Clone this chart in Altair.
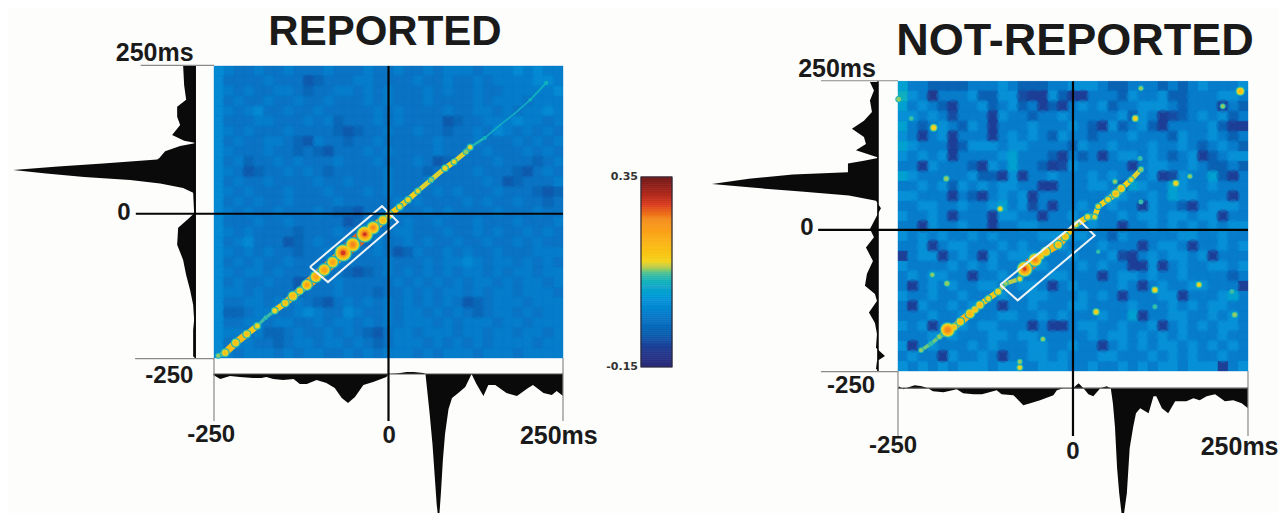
import altair as alt
import numpy as np
import pandas as pd

# ---- colour scale ----
cb_domain = [-0.15, -0.10, -0.066, -0.02, 0.026, 0.06, 0.092, 0.11, 0.126, 0.18, 0.237, 0.276, 0.34, 0.35]
cb_range = ["#2b2a78", "#1d3f96", "#0a5fb0", "#0a78c8", "#0a94d8", "#1fa8c8", "#45bda0", "#b8cc50",
            "#f5d21a", "#fbb118", "#f68d1e", "#d93a1e", "#7a1a18", "#701816"]
color_scale = alt.Scale(domain=cb_domain, range=cb_range, clamp=True)
levels_a = {"3": -0.072, "4": -0.052, "5": -0.03, "6": -0.012, "7": 0.008}
levels_b = {"1": -0.115, "2": -0.10, "3": -0.085, "4": -0.06, "5": -0.014, "6": 0.02, "7": 0.045, "8": 0.07}

# ---- background correlation levels (rows top to bottom) ----
rows_a = """76556 55655 56555 65565 56566 65666 76766
75555 65553 45556 65555 65565 56566 66776
76565 56654 55665 65655 56565 56556 66667
75655 65565 56555 65655 56555 56566 65666
76567 55655 65555 56565 55565 56656 56676
75556 65556 56455 56565 55534 55666 76656
76565 55655 55434 55655 65545 56576 56565
75655 66543 65545 56555 55655 56555 65656
76555 65545 43555 65655 55655 55655 56565
75645 56565 55655 56555 65345 55565 55456
76534 55656 54555 55655 54555 56555 43565
75655 65555 65565 55655 56555 55653 45556
76565 55655 56555 65655 55656 55565 55434
75656 55655 55655 55565 65555 65655 65545
76565 56555 65443 55565 56565 55565 55655
75556 55655 55534 65556 55655 56555 65556
76565 55545 55655 65566 55565 56565 56565
75675 55345 65565 46556 56556 55655 65655
76565 65545 56555 56534 65565 65565 55666
75656 55655 55655 55655 56566 76566 56565
76566 56555 65543 45656 56565 66565 66566
75655 65534 55655 55565 65656 56656 56656
76656 55545 55655 54556 56566 56566 56665
75566 56565 43565 65656 56565 34566 65666
74456 65567 65576 55656 65656 54566 56566
75566 56655 65665 65656 66565 66656 65666
76656 44565 56565 43566 56665 66566 56656
75665 54566 56656 54566 65656 56566 66566
76566 65656 65565 65666 56566 65666 56666""".split("\n")

rows_b = """75544 44555 65444 55666 54455 54545 65556
86515 55644 66322 64225 55465 56445 55665
75654 25564 56452 42565 64556 66545 55254
66565 35552 65545 56555 55646 52345 65645
75456 54652 55565 55654 26456 42555 56422
65256 25552 56565 46554 55565 55465 56545
76555 24666 56655 55465 56555 65565 45654
65656 25555 67555 42545 25665 65456 24566
55265 55426 57554 23655 55525 66556 54454
76555 55644 26255 65556 56555 62365 57425
55656 46565 66552 25556 65476 55765 56555
66555 25425 65625 55555 56655 65766 55525
55665 56556 75635 25565 56552 65542 56665
65565 25552 66552 55656 55656 65665 66255
55265 56552 55665 55556 55255 65656 56566
65656 55656 55556 66665 54655 55566 55655
55625 66555 65655 56555 65552 56652 55656
25662 56526 56665 55655 56325 65665 62555
65555 65656 55566 55565 65522 62565 56656
56566 55255 65555 66555 25665 65565 55545
52565 65566 55665 25655 55652 56556 65552
65565 56555 65566 55565 65255 56625 55675
52655 65655 25565 55665 55565 55656 56655
55565 56555 66556 56555 65572 55665 56565
65625 56566 55525 22566 55655 62565 65665
55565 65556 65665 55556 56656 56565 55655
62565 55656 55566 55655 25656 56656 56565
56552 65565 25566 56555 66555 65656 55655
65656 56665 66556 66556 55656 56656 66256""".split("\n")

# ---- ridge along the diagonal: lag x (ms), lag y (ms), correlation ----
ridge_a_x = [-244, -234, -219, -203, -188, -176, -163, -148, -137, -127, -117, -104, -92, -80, -65, -51, -34, -22, -8, 1, 16, 28, 42, 61, 81, 94, 111, 117, 138, 160, 181, 203, 226]
ridge_a_y = [-246, -241, -224, -209, -195, -181, -169, -156, -144, -135, -125, -111, -99, -86, -70, -56, -38, -27, -14, -5, 9, 21, 36, 55, 75, 86, 103, 111, 127, 149, 169, 192, 221]
ridge_a_v = [0.11, 0.16, 0.17, 0.16, 0.14, 0.09, 0.14, 0.16, 0.19, 0.16, 0.21, 0.22, 0.23, 0.22, 0.30, 0.26, 0.29, 0.24, 0.19, 0.17, 0.14, 0.14, 0.13, 0.12, 0.14, 0.13, 0.12, 0.13, 0.08, 0.065, 0.065, 0.07, 0.085]

ridge_b_x = [-217, -203, -191, -179, -170, -161, -147, -140, -133, -121, -107, -96, -76, -71, -69, -54, -46, -39, -21, -11, 4, 21, 31, 36, 50, 61, 69, 83, 97]
ridge_b_y = [-214, -203, -191, -179, -174, -165, -151, -144, -136, -125, -113, -99, -91, -79, -74, -58, -51, -44, -32, -18, 3, 16, 16, 34, 46, 56, 65, 80, 98]
ridge_b_v = [0.11, 0.10, 0.12, 0.27, 0.16, 0.17, 0.19, 0.16, 0.17, 0.14, 0.15, 0.11, 0.13, 0.15, 0.28, 0.25, 0.16, 0.19, 0.17, 0.17, 0.14, 0.14, 0.13, 0.13, 0.14, 0.17, 0.17, 0.13, 0.12]

# isolated peaks in the not-reported map
spot_b_x = [-199, -104, -181, -231, -249, 89, 97, 239, 214, 147, 167, 97, 96, -201, -180, -43, -76, -76, 117, 180, 33, 231, 117, 227, 36, 60]
spot_b_y = [170, 30, 82, 186, 219, 186, 238, 233, 207, 74, 86, 42, 117, -84, -99, -195, -234, -244, -110, -101, -148, -153, -139, -113, -44, 77]
spot_b_v = [0.15, 0.13, 0.12, 0.10, 0.12, 0.14, 0.11, 0.17, 0.11, 0.14, 0.11, 0.10, 0.10, 0.11, 0.12, 0.11, 0.11, 0.13, 0.14, 0.13, 0.14, 0.12, 0.10, 0.10, 0.09, 0.11]

# selection window outlines (ms)
box_a_x = [-112.5, -86.7, 13.6, -9.3, -112.5]
box_a_y = [-94, -120, -17, 10, -94]
box_b_x = [-104, -79, 31, 9, -104]
box_b_y = [-101, -128, -16, 10, -101]

# ---- spike histograms: position (ms), height ----
left_a_t = [250, 217, 192, 180, 163, 149, 132, 122, 118, 113, 104, 92, 90, 83, 78, 72, 66, 60, 55, 49, 41, 33, -2, -12, -27, -56, -82, -108, -134, -159, -185, -202, -228, -248]
left_a_h = [12, 11, 9, 18, 18, 15, 23, 11, -1, 15, 30, 36, 38, 92, 137, 182, 149, 111, 65, 35, 12, 2, 1, 7, 17, 18, 12, 9, 5, 2, 1, 2, 2, 2]
bottom_a_t = [-251, -241, -227, -213, -194, -182, -175, -165, -151, -136, -127, -117, -103, -89, -77, -67, -58, -48, -36, -22, -3, 0, 12, 26, 36, 50, 53, 56, 59, 63, 66, 69, 72, 75, 78, 81, 86, 91, 100, 110, 119, 126, 136, 143, 153, 169, 184, 200, 207, 222, 234, 241, 250]
bottom_a_h = [1, 5, 2, 3, 4, 4, 3, 5, 6, 5, 10, 10, 6, 9, 14, 24, 29, 23, 11, 8, 3, 0, -0.5, -2, -2, -1, 0, 20, 40, 70, 100, 130, 149, 120, 85, 60, 35, 24, 19, 13, 0, 10, 22, 11, 11, 19, 22, 14, 11, 19, 21, 17, 22]

left_b_t = [249, 234, 217, 197, 182, 168, 154, 142, 131, 122, 118, 113, 108, 93, 89, 82, 73, 67, 60, 53, 44, 31, 15, -5, -19, -37, -60, -82, -103, -117, -129, -149, -167, -186, -210, -224, -233, -247]
left_b_h = [8, 4, 8, 6, 14, 26, 14, 12, 22, 6, -1, 14, 30, 30, 85, 129, 166, 129, 77, 29, 2, -3, 2, 8, 4, 12, 5, 11, 13, 3, 1, 9, 3, 1, 2, -7, 1, 2]
bottom_b_t = [-249, -242, -235, -226, -216, -207, -200, -185, -166, -157, -142, -130, -109, -102, -85, -71, -61, -47, -28, -23, -14, 0, 8, 15, 22, 29, 39, 48, 54, 57, 60, 63, 66, 71, 77, 81, 86, 90, 96, 108, 115, 119, 127, 136, 146, 162, 172, 181, 191, 203, 217, 229, 241, 250]
bottom_b_h = [-2, 1, -1, -3, -2, 0, 3, 4, 1, 5, 6, 6, 2, 6, 7, 17, 15, 12, 7, 2, 0, 0, -5, 0, 6, 8, 0, -2, 0, 15, 39, 80, 105, 135, 105, 60, 39, 25, 20, 25, 8, 8, 20, 25, 13, 13, 10, 12, 8, 6, 13, 12, 15, 20]

bar_levels = np.arange(-0.15, 0.35, 0.005).round(3).tolist()

FONT = "Liberation Sans"


def cells(rows, levels):
    recs = []
    rows = [r.replace(" ", "") for r in rows]
    ncol, nrow = len(rows[0]), len(rows)
    for j, row in enumerate(rows):
        for i, c in enumerate(row):
            recs.append(dict(x=-250 + 500 * i / ncol, x2=-250 + 500 * (i + 1) / ncol,
                             y=250 - 500 * j / nrow, y2=250 - 500 * (j + 1) / nrow,
                             cx=-250 + 500 * (i + 0.5) / ncol, cy=250 - 500 * (j + 0.5) / nrow,
                             v=levels[c], edge=(i == 0 or j == 0 or i == ncol - 1 or j == nrow - 1)))
    return pd.DataFrame(recs)


def shells(xs, ys, vs):
    steps = [0.07, 0.09, 0.105, 0.125, 0.16, 0.2, 0.24, 0.28]
    recs = []
    for x, y, p in zip(xs, ys, vs):
        for l in steps:
            if l <= p:
                d = 3.5 + (p - l) * 62
                recs.append(dict(x=x, y=y, v=l, s=d * d))
    return pd.DataFrame(recs).sort_values("v", kind="stable")


def segments(xs, ys, vs):
    recs = []
    for i in range(len(xs) - 1):
        m = min(vs[i], vs[i + 1])
        recs.append(dict(x=xs[i], x2=xs[i + 1], y=ys[i], y2=ys[i + 1], v=m, w=1.6 + max(m - 0.065, 0) * 58))
    return pd.DataFrame(recs).sort_values("v", kind="stable")


def panel(rows, levels, rx, ry, rv, box_x, box_y, left_t, left_h, bot_t, bot_h,
          xdom, ydom, width, height, kx, ky, left_base, bot_base, zero_y, x_top_from, x_low_from,
          low_len, zero_from, texts, spots=None, blob=220, blob_op=0.5):
    sx = alt.Scale(domain=xdom, range=[0, width], nice=False, zero=False)
    sy = alt.Scale(domain=ydom, range=[height, 0], nice=False, zero=False)
    X = lambda f="x": alt.X(f"{f}:Q", scale=sx, axis=None)
    Y = lambda f="y": alt.Y(f"{f}:Q", scale=sy, axis=None)
    C = alt.Color("v:Q", scale=color_scale, legend=None)

    layers = []
    cdf = cells(rows, levels)
    layers.append(alt.Chart(pd.DataFrame(dict(x=[-250], x2=[250], y=[250], y2=[-250], v=[-0.02])))
                  .mark_rect().encode(x=X(), x2="x2:Q", y=Y(), y2="y2:Q", color=C))
    layers.append(alt.Chart(cdf).mark_rect(strokeWidth=0.4).encode(
        x=X(), x2="x2:Q", y=Y(), y2="y2:Q", color=C, stroke=alt.Stroke("v:Q", scale=color_scale, legend=None)))
    # softened blobs over the cells
    layers.append(alt.Chart(cdf[~cdf.edge]).mark_circle(opacity=blob_op, size=blob).encode(
        x=X("cx"), y=Y("cy"), color=C))
    # ridge
    seg = segments(rx, ry, rv)
    layers.append(alt.Chart(seg).mark_rule(strokeCap="round").encode(
        x=X(), x2="x2:Q", y=Y(), y2="y2:Q", color=C,
        strokeWidth=alt.StrokeWidth("w:Q", scale=None, legend=None)))
    sdf = shells(rx, ry, rv)
    if spots is not None:
        sdf = pd.concat([sdf, shells(*spots)]).sort_values("v", kind="stable")
    layers.append(alt.Chart(sdf).mark_circle(opacity=1).encode(
        x=X(), y=Y(), color=C, size=alt.Size("s:Q", scale=None, legend=None)))
    # selection box
    bdf = pd.DataFrame(dict(x=box_x, y=box_y, o=range(len(box_x))))
    layers.append(alt.Chart(bdf).mark_line(color="#eef4f6", strokeWidth=2).encode(x=X(), y=Y(), order="o:Q"))

    # histograms
    ldf = pd.DataFrame(dict(y=left_t, h=left_h)).sort_values("y")
    ldf["x"] = left_base - ldf.h * kx
    ldf["x2"] = left_base
    layers.append(alt.Chart(ldf).mark_area(orient="horizontal", color="#0a0a0a", interpolate="linear").encode(
        y=Y(), x=X(), x2="x2:Q"))
    bdf2 = pd.DataFrame(dict(x=bot_t, h=bot_h))
    bdf2["y"] = bot_base - bdf2.h * ky
    bdf2["y2"] = bot_base
    layers.append(alt.Chart(bdf2).mark_area(color="#0a0a0a", interpolate="linear", clip=True).encode(
        x=X(), y=Y(), y2="y2:Q"))

    # thin grey frame rules
    gray = pd.DataFrame(dict(
        x=[x_top_from, x_low_from, -250, 250, -250],
        x2=[-250, -250, -250, 250, 250],
        y=[251, -251, -250, -250, bot_base],
        y2=[251, -251, low_len, low_len, bot_base],
        c=["#8a8a8a", "#8a8a8a", "#8a8a8a", "#8a8a8a", "#555555"]))
    layers.append(alt.Chart(gray).mark_rule(strokeWidth=1.2).encode(
        x=X(), x2="x2:Q", y=Y(), y2="y2:Q", color=alt.Color("c:N", scale=None, legend=None)))
    # black axes
    black = pd.DataFrame(dict(
        x=[zero_from, 0, left_base], x2=[250, 0, left_base],
        y=[zero_y, 250, 250], y2=[zero_y, low_len, -250], w=[2.2, 2.2, 1.6]))
    layers.append(alt.Chart(black).mark_rule(color="#050505").encode(
        x=X(), x2="x2:Q", y=Y(), y2="y2:Q", strokeWidth=alt.StrokeWidth("w:Q", scale=None, legend=None)))
    # text
    tdf = pd.DataFrame(texts, columns=["x", "y", "t", "fs"])
    layers.append(alt.Chart(tdf).mark_text(font=FONT, fontWeight="bold", color="#1a1a1a", baseline="alphabetic", align="center").encode(
        x=X(), y=Y(), text="t:N", size=alt.Size("fs:Q", scale=None, legend=None)))
    return alt.layer(*layers).properties(width=width, height=height)


H = 505
a = panel(rows_a, levels_a, ridge_a_x, ridge_a_y, ridge_a_v, box_a_x, box_a_y,
          left_a_t, left_a_h, bottom_a_t, bottom_a_h,
          xdom=[-545.1, 303.0], ydom=[-515.4, 349.3], width=592, height=H,
          kx=1.4327, ky=1.7123, left_base=-277, bot_base=-277.4, zero_y=-3,
          x_top_from=-355, x_low_from=-363, low_len=-358, zero_from=-362,
          texts=[(-5, 286, "REPORTED", 42), (-335, 258.6, "250ms", 25), (-379, -14, "0", 24),
                 (-314, -293, "-250", 24), (-254, -394, "-250", 24), (1, -396, "0", 24), (244, -397, "250ms", 25)],
          blob=200, blob_op=0.4)

# colour bar panel
bdf = pd.DataFrame(dict(lo=bar_levels, hi=[round(v + 0.0055, 4) for v in bar_levels], v=bar_levels, x=[641] * len(bar_levels), x2=[672] * len(bar_levels)))
bx = alt.Scale(domain=[600, 690], range=[0, 90], nice=False, zero=False)
by = alt.Scale(domain=[-0.5342, 0.7947], range=[H, 0], nice=False, zero=False)
bar = alt.Chart(bdf).mark_rect(strokeWidth=0.5).encode(
    x=alt.X("x:Q", scale=bx, axis=None), x2="x2:Q",
    y=alt.Y("lo:Q", scale=by, axis=None), y2="hi:Q",
    color=alt.Color("v:Q", scale=color_scale, legend=None),
    stroke=alt.Stroke("v:Q", scale=color_scale, legend=None))
frame = alt.Chart(pd.DataFrame(dict(x=[641], x2=[672], y=[-0.15], y2=[0.35]))).mark_rect(
    fillOpacity=0, stroke="#2a2a3a", strokeWidth=1.2).encode(
    x=alt.X("x:Q", scale=bx, axis=None), x2="x2:Q", y=alt.Y("y:Q", scale=by, axis=None), y2="y2:Q")
bar_text = alt.Chart(pd.DataFrame(dict(x=[638, 638], y=[0.35, -0.15], t=["0.35", "-0.15"]))).mark_text(
    font="DejaVu Sans", fontWeight="bold", fontSize=11, color="#333333", align="right", baseline="middle").encode(
    x=alt.X("x:Q", scale=bx, axis=None), y=alt.Y("y:Q", scale=by, axis=None), text="t:N")
c = alt.layer(bar, frame, bar_text).properties(width=90, height=H)

b = panel(rows_b, levels_b, ridge_b_x, ridge_b_y, ridge_b_v, box_b_x, box_b_y,
          left_b_t, left_b_h, bottom_b_t, bottom_b_h,
          xdom=[-547.1, 294.3], ydom=[-495.1, 376.6], width=589, height=H,
          kx=1.4286, ky=1.7241, left_base=-278.6, bot_base=-279.6, zero_y=-6.5,
          x_top_from=-360, x_low_from=-360, low_len=-362, zero_from=-364,
          texts=[(3, 296, "NOT-REPORTED", 45), (-337, 258, "250ms", 25), (-380, -16, "0", 24),
                 (-317, -288, "-250", 24), (-257, -392, "-250", 24), (0, -402, "0", 24), (238, -395, "250ms", 25)],
          spots=(spot_b_x, spot_b_y, spot_b_v), blob=200, blob_op=0.4)

chart = alt.hconcat(a, c, b, spacing=0).properties(
    padding=0, background="#fdfdfc"
).configure_view(stroke=None)
chart.save("out.html", embed_options={"renderer": "svg", "actions": False})
